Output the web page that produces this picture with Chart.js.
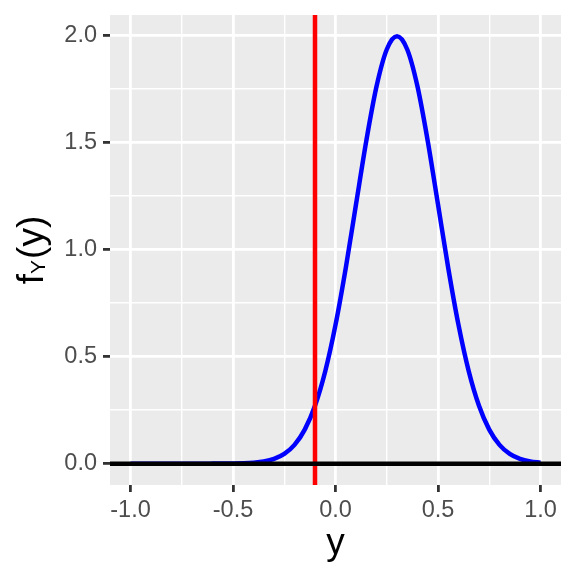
<!doctype html>
<html lang="en">
  <head>
    <meta charset="utf-8">
    <title>Density of Y</title>
    <style>
      * { margin: 0; padding: 0; }
      body { background: #fff; }
      .chartBox { width: 576px; height: 576px; }
    </style>
  </head>
  <body>
    <div class="chartBox">
      <canvas id="myChart" width="576" height="576"></canvas>
    </div>
    <script src="https://cdn.jsdelivr.net/npm/chart.js"></script>
    <script>
    // values
    const yValues = [-1.00, -0.95, -0.90, -0.85, -0.80, -0.75, -0.70, -0.65, -0.60, -0.55,
                     -0.50, -0.45, -0.40, -0.35, -0.30, -0.25, -0.20, -0.15, -0.10, -0.05,
                      0.00,  0.05,  0.10,  0.15,  0.20,  0.25,  0.30,  0.35,  0.40,  0.45,
                      0.50,  0.55,  0.60,  0.65,  0.70,  0.75,  0.80,  0.85,  0.90,  0.95, 1.00];
    const density = [0, 0, 0, 0, 0, 0, 0, 0, 0.0001, 0.0002,
                     0.0007, 0.0018, 0.0044, 0.0101, 0.0222, 0.0455, 0.0876, 0.1587, 0.2700, 0.4314,
                     0.6476, 0.9132, 1.2099, 1.5057, 1.7603, 1.9333, 1.9947, 1.9333, 1.7603, 1.5057,
                     1.2099, 0.9132, 0.6476, 0.4314, 0.2700, 0.1587, 0.0876, 0.0455, 0.0222, 0.0101, 0.0044];
    const cutoff = -0.1;     // red vertical line
    const baseline = 0;      // black horizontal line
    const xTicks = [-1.0, -0.5, 0.0, 0.5, 1.0];
    const yTicks = [0.0, 0.5, 1.0, 1.5, 2.0];

    // ggplot style limits (5% expansion)
    const xMin = -1.1, xMax = 1.1;
    const yMin = -0.0997, yMax = 2.0944;

    const fontFam = "'Liberation Sans', Arial, sans-serif";
    const isMajor = (v, list) => list.some(t => Math.abs(t - v) < 1e-6);

    const panelBg = {
      id: 'panelBg',
      beforeDraw(chart) {
        const { ctx, chartArea: a } = chart;
        ctx.save();
        ctx.fillStyle = '#EBEBEB';
        ctx.fillRect(a.left, a.top, a.right - a.left, a.bottom - a.top);
        ctx.restore();
      }
    };

    const axisTitles = {
      id: 'axisTitles',
      afterDraw(chart) {
        const { ctx, chartArea: a } = chart;
        ctx.save();
        ctx.fillStyle = '#000';
        ctx.textBaseline = 'alphabetic';
        // x title
        ctx.font = '37px ' + fontFam;
        ctx.textAlign = 'center';
        ctx.fillText('y', (a.left + a.right) / 2, 554);
        // y title f_Y(y), rotated
        ctx.translate(43, (a.top + a.bottom) / 2);
        ctx.rotate(-Math.PI / 2);
        ctx.textAlign = 'left';
        const big = '37px ' + fontFam, small = '21px ' + fontFam;
        ctx.font = big; const wf = ctx.measureText('f').width;
        const wp = ctx.measureText('(y)').width;
        ctx.font = small; const ws = ctx.measureText('Y').width;
        let x = -(wf + ws + wp + 1) / 2;
        ctx.font = big; ctx.fillText('f', x, 0); x += wf;
        ctx.font = small; ctx.fillText('Y', x, 2); x += ws + 1;
        ctx.font = big; ctx.fillText('(y)', x, 0);
        ctx.restore();
      }
    };

    const data = {
      datasets: [
        {
          label: 'zero',
          data: [{ x: xMin, y: baseline }, { x: xMax, y: baseline }],
          borderColor: '#000000',
          borderWidth: 4.5,
          pointRadius: 0,
          order: 0
        },
        {
          label: 'cutoff',
          data: [{ x: cutoff, y: yMin }, { x: cutoff, y: yMax }],
          borderColor: '#FF0000',
          borderWidth: 4.5,
          pointRadius: 0,
          order: 1
        },
        {
          label: 'density',
          data: yValues.map((v, i) => ({ x: v, y: density[i] })),
          borderColor: '#0000FF',
          borderWidth: 4.5,
          pointRadius: 0,
          cubicInterpolationMode: 'monotone',
          order: 2
        }
      ]
    };

    const gridOpts = (list) => ({
      color: '#FFFFFF',
      lineWidth: c => isMajor(c.tick.value, list) ? 2.8 : 1.4,
      tickColor: c => isMajor(c.tick.value, list) ? '#333333' : 'rgba(0,0,0,0)',
      tickWidth: 2.8,
      tickLength: 7
    });

    const config = {
      type: 'line',
      data,
      options: {
        responsive: false,
        animation: false,
        events: [],
        layout: { padding: { left: 0, right: 15, top: 15, bottom: 0 } },
        plugins: { legend: { display: false }, tooltip: { enabled: false } },
        scales: {
          x: {
            type: 'linear',
            min: xMin, max: xMax,
            border: { display: false },
            grid: gridOpts(xTicks),
            ticks: {
              stepSize: 0.25,
              includeBounds: false,
              autoSkip: false,
              maxRotation: 0,
              padding: 4,
              color: '#4D4D4D',
              font: { family: fontFam, size: 23.5 },
              callback: v => isMajor(v, xTicks) ? v.toFixed(1) : ''
            },
            afterFit: s => { s.height = 91; s.paddingLeft = 0; s.paddingRight = 0; }
          },
          y: {
            type: 'linear',
            min: yMin, max: yMax,
            border: { display: false },
            grid: gridOpts(yTicks),
            ticks: {
              stepSize: 0.25,
              includeBounds: false,
              autoSkip: false,
              padding: 6,
              color: '#4D4D4D',
              font: { family: fontFam, size: 23.5 },
              callback: v => isMajor(v, yTicks) ? v.toFixed(1) : ''
            },
            afterFit: s => { s.width = 110; s.paddingTop = 0; s.paddingBottom = 0; }
          }
        }
      },
      plugins: [panelBg, axisTitles]
    };

    const ctx = document.getElementById('myChart');
    const myChart = new Chart(ctx, config);
    </script>
  </body>
</html>
